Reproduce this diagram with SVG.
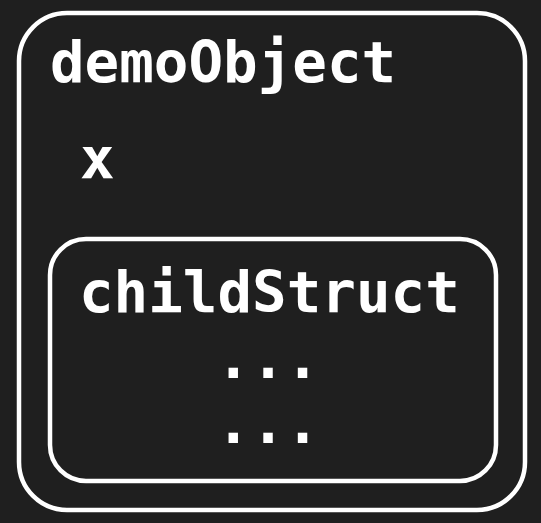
<svg xmlns="http://www.w3.org/2000/svg" width="541" height="523" viewBox="0 0 541 523">
<style>
.box{fill:none;stroke:#ffffff;stroke-width:4.5}
.t{font-family:"DejaVu Sans Mono","Liberation Mono",monospace;font-weight:bold;font-size:57.5px;fill:#ffffff}
</style>
<rect width="541" height="523" fill="#1f1f1f"/>
<g id="demoObject">
<rect class="box" x="19" y="13" width="506" height="497" rx="48"/>
<text class="t" x="50" y="82">demoObject</text>
<text class="t" x="80" y="178">x</text>
</g>
<g id="childStruct">
<rect class="box" x="50" y="239" width="446" height="242" rx="36"/>
<text class="t" x="79" y="312">childStruct</text>
<text class="t" x="268" y="378" text-anchor="middle">...</text>
<text class="t" x="268" y="443" text-anchor="middle">...</text>
</g>
<g id="connectors"/>
</svg>
